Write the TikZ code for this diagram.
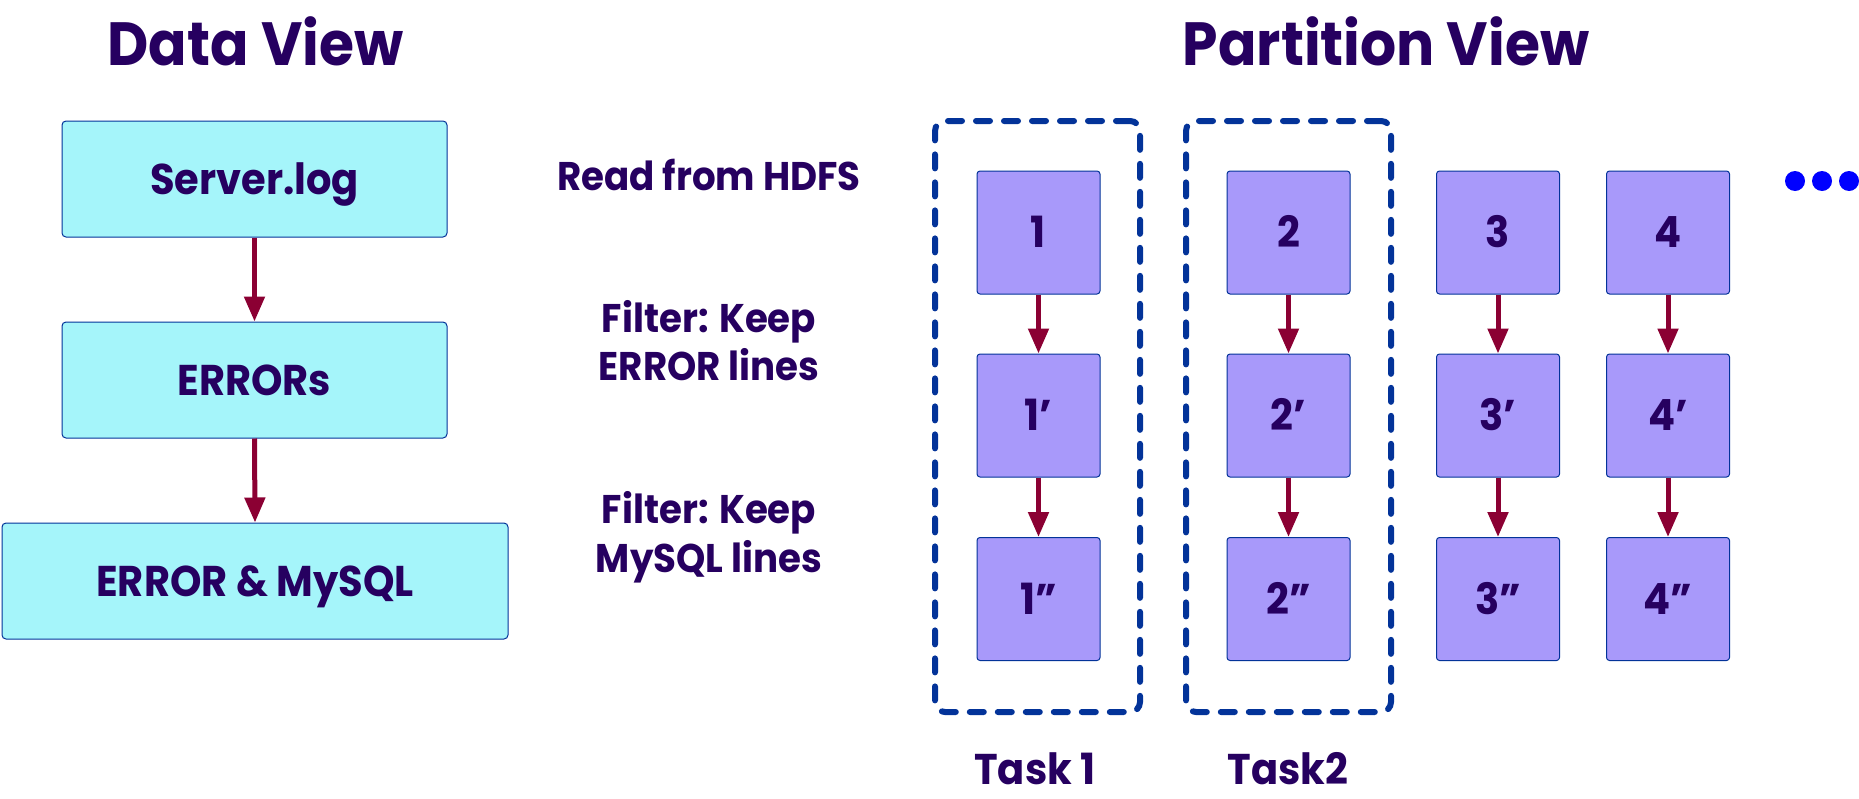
\documentclass[tikz,border=0pt]{standalone}
\usepackage{fontspec}
\setmainfont{Poppins}[FakeStretch=0.93]
\usetikzlibrary{arrows.meta}
\definecolor{txt}{RGB}{38,0,96}
\definecolor{cyanfill}{RGB}{165,245,250}
\definecolor{edge}{RGB}{3,51,153}
\definecolor{pfill}{RGB}{168,153,250}
\definecolor{arr}{RGB}{139,0,51}
\definecolor{dotc}{RGB}{0,0,255}
\begin{document}
\begin{tikzpicture}[x=1pt,y=-1pt,
 title/.style={font=\fontsize{61}{70}\selectfont\bfseries, text=txt, anchor=base, inner sep=0pt},
 lbl/.style={font=\fontsize{40}{48}\selectfont\bfseries, text=txt, anchor=base, inner sep=0pt},
 dbox/.style={draw=edge, line width=1pt, fill=cyanfill, rounded corners=4pt, minimum height=116pt, inner sep=0pt,
   font=\fontsize{43}{50}\selectfont\bfseries, text=txt, text height=30pt, text depth=0pt},
 pbox/.style={draw=edge, line width=1pt, fill=pfill, rounded corners=3pt, minimum width=123pt, minimum height=123pt, inner sep=0pt,
   font=\fontsize{43}{50}\selectfont\bfseries, text=txt, text height=30pt, text depth=0pt},
 dashbox/.style={draw=edge, line width=6pt, line cap=round, dash pattern=on 14pt off 14pt, rounded corners=10pt,
   minimum width=205pt, minimum height=591pt, inner sep=0pt},
 flow/.style={draw=arr, line width=5pt, -{Triangle[width=20pt,length=25pt]}},
 dotnode/.style={circle, fill=dotc, minimum size=20pt, inner sep=0pt}
]
\useasboundingbox (0,0) rectangle (1859,798);
% titles
\node[title] (tdata) at (255.5,65) {Data View};
\node[title] (tpart) at (1386,65) {Partition View};
% data view
\node[dbox, minimum width=385pt] (d1) at (254.5,179) {Server.log};
\node[dbox, minimum width=385pt] (d2) at (254.5,380) {ERRORs};
\node[dbox, minimum width=506pt] (d3) at (255,581) {ERROR \& MySQL};
\draw[flow] (d1.south) -- (d2.north);
\draw[flow] (d2.south) -- (d3.north);
% labels
\node[lbl] (l1) at (709,190) {Read from HDFS};
\node[lbl] (l2a) at (709,332) {Filter: Keep};
\node[lbl] (l2b) at (709,380) {ERROR lines};
\node[lbl] (l3a) at (709,523) {Filter: Keep};
\node[lbl] (l3b) at (709,572) {MySQL lines};
% task frames
\node[dashbox] (task1) at (1037.5,416.5) {};
\node[dashbox] (task2) at (1288.5,416.5) {};
% partitions
\foreach \n/\x in {1/1038.5,2/1288.5,3/1498,4/1668}{
  \node[pbox] (p\n a) at (\x,232.5) {\n};
  \node[pbox] (p\n b) at (\x,415.5) {\n’};
  \node[pbox] (p\n c) at (\x,599) {\n”};
  \draw[flow] (p\n a.south) -- (p\n b.north);
  \draw[flow] (p\n b.south) -- (p\n c.north);
}
% dots
\node[dotnode] (dot1) at (1795,181) {};
\node[dotnode] (dot2) at (1822,181) {};
\node[dotnode] (dot3) at (1849,181) {};
% task labels
\node[lbl, font=\fontsize{43}{50}\selectfont\bfseries] (tk1) at (1035,784) {Task 1};
\node[lbl, font=\fontsize{43}{50}\selectfont\bfseries] (tk2) at (1288,784) {Task2};
\end{tikzpicture}
\end{document}
